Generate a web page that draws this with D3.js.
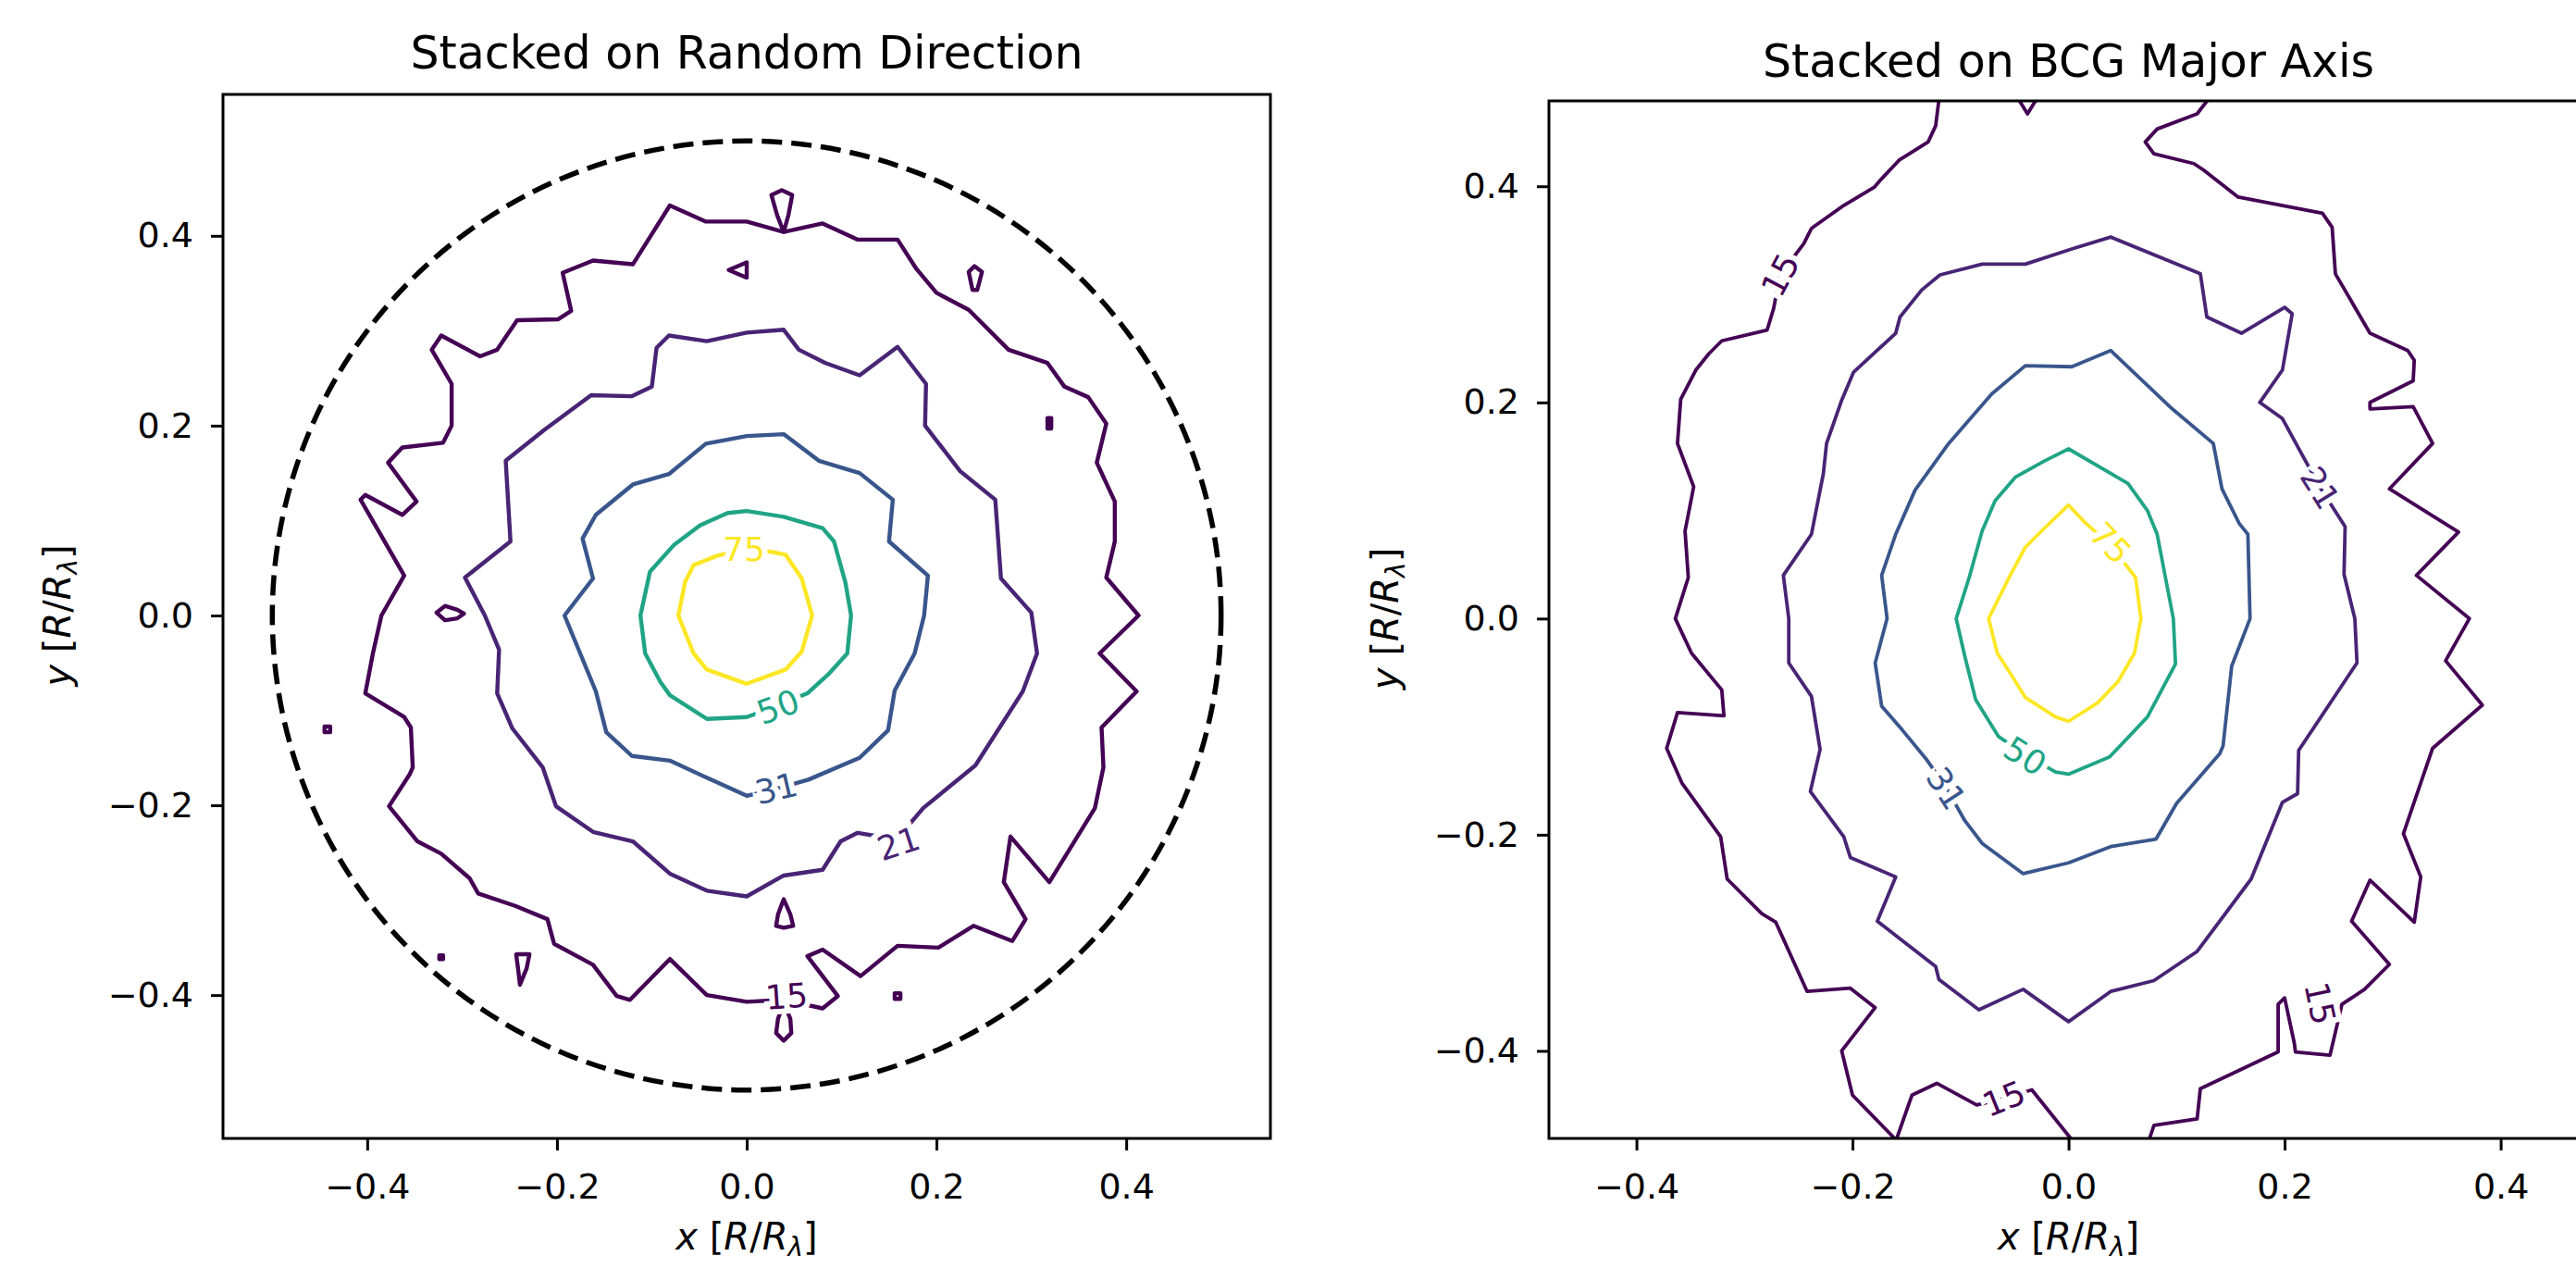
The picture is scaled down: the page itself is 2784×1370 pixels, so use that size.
<!DOCTYPE html>
<html>
<head>
<meta charset="utf-8">
<script src="https://cdn.jsdelivr.net/npm/d3@7"></script>
<style>
body { margin: 0; background: #fff; }
svg { display: block; font-family: "DejaVu Sans", sans-serif; }
</style>
</head>
<body>
<svg id="vis" width="2784" height="1370"></svg>
<script>
// contour levels and ticks shared by both panels
var levels = [15, 21, 31, 50, 75];
var tickValues = [-0.4, -0.2, 0, 0.2, 0.4];
var circleRadius = 0.5;

// ---- left panel: stacked on random direction (closed contours, data units) ----
var rand15 = [[-0.385,0.000],[-0.361,0.042],[-0.407,0.122],[-0.402,0.127],[-0.363,0.106],[-0.348,0.120],[-0.378,0.161],[-0.363,0.177],[-0.320,0.182],[-0.311,0.200],[-0.311,0.244],[-0.332,0.280],[-0.322,0.295],[-0.281,0.273],[-0.263,0.280],[-0.242,0.311],[-0.199,0.312],[-0.185,0.321],[-0.194,0.361],[-0.162,0.374],[-0.120,0.370],[-0.081,0.432],[-0.043,0.415],[0.000,0.415],[0.039,0.404],[0.080,0.413],[0.117,0.396],[0.159,0.396],[0.179,0.365],[0.200,0.340],[0.234,0.322],[0.276,0.280],[0.317,0.266],[0.335,0.241],[0.360,0.230],[0.379,0.202],[0.369,0.161],[0.388,0.120],[0.388,0.078],[0.379,0.040],[0.413,0.000],[0.372,-0.040],[0.411,-0.080],[0.374,-0.118],[0.376,-0.160],[0.367,-0.203],[0.319,-0.281],[0.278,-0.233],[0.271,-0.281],[0.294,-0.320],[0.280,-0.343],[0.239,-0.327],[0.202,-0.350],[0.159,-0.348],[0.120,-0.380],[0.080,-0.352],[0.064,-0.359],[0.096,-0.401],[0.080,-0.414],[0.040,-0.405],[0.000,-0.407],[-0.042,-0.400],[-0.081,-0.362],[-0.123,-0.405],[-0.137,-0.401],[-0.162,-0.368],[-0.203,-0.346],[-0.210,-0.320],[-0.244,-0.306],[-0.283,-0.293],[-0.292,-0.277],[-0.322,-0.251],[-0.347,-0.238],[-0.377,-0.201],[-0.355,-0.167],[-0.352,-0.160],[-0.354,-0.118],[-0.361,-0.107],[-0.402,-0.082],[-0.394,-0.040]];
var rand21 = [[-0.276,0.000],[-0.297,0.040],[-0.249,0.078],[-0.254,0.163],[-0.214,0.195],[-0.164,0.232],[-0.121,0.231],[-0.100,0.241],[-0.095,0.282],[-0.082,0.295],[-0.042,0.289],[0.000,0.298],[0.039,0.301],[0.055,0.280],[0.083,0.266],[0.119,0.253],[0.159,0.283],[0.189,0.244],[0.188,0.200],[0.225,0.152],[0.262,0.122],[0.268,0.039],[0.300,0.003],[0.306,-0.040],[0.291,-0.080],[0.241,-0.158],[0.186,-0.203],[0.158,-0.236],[0.117,-0.229],[0.099,-0.238],[0.080,-0.268],[0.039,-0.274],[0.000,-0.296],[-0.042,-0.290],[-0.081,-0.272],[-0.120,-0.238],[-0.162,-0.228],[-0.201,-0.201],[-0.215,-0.160],[-0.247,-0.119],[-0.263,-0.082],[-0.261,-0.036]];
var rand31 = [[-0.192,0.000],[-0.162,0.039],[-0.173,0.081],[-0.159,0.106],[-0.120,0.138],[-0.082,0.149],[-0.043,0.181],[0.000,0.189],[0.039,0.191],[0.076,0.163],[0.119,0.150],[0.154,0.122],[0.150,0.078],[0.191,0.042],[0.187,0.000],[0.177,-0.040],[0.156,-0.079],[0.149,-0.121],[0.119,-0.150],[0.065,-0.173],[0.030,-0.183],[0.000,-0.190],[-0.042,-0.171],[-0.081,-0.153],[-0.121,-0.148],[-0.148,-0.123],[-0.159,-0.080]];
var rand50 = [[-0.112,0.000],[-0.102,0.046],[-0.077,0.074],[-0.049,0.095],[-0.020,0.108],[0.000,0.110],[0.039,0.104],[0.080,0.092],[0.092,0.078],[0.104,0.035],[0.110,0.000],[0.106,-0.040],[0.087,-0.061],[0.064,-0.082],[0.033,-0.095],[0.000,-0.107],[-0.042,-0.109],[-0.081,-0.084],[-0.091,-0.070],[-0.107,-0.040]];
var rand75 = [[-0.072,0.000],[-0.065,0.035],[-0.056,0.053],[-0.031,0.063],[0.000,0.070],[0.026,0.067],[0.041,0.064],[0.058,0.039],[0.069,0.000],[0.058,-0.038],[0.041,-0.057],[0.000,-0.072],[-0.042,-0.057],[-0.056,-0.040]];
// small closed islands of the 15 level
var randIslands15 = [
    [[0.026,0.443],[0.037,0.448],[0.048,0.443],[0.044,0.422],[0.039,0.404],[0.032,0.422]],
    [[-0.019,0.364],[0.000,0.372],[0.000,0.356]],
    [[0.234,0.362],[0.240,0.368],[0.248,0.362],[0.243,0.343],[0.238,0.343]],
    [[0.317,0.208],[0.321,0.208],[0.321,0.197],[0.317,0.197]],
    [[-0.327,0.003],[-0.318,0.010],[-0.305,0.006],[-0.298,0.002],[-0.305,-0.003],[-0.318,-0.005]],
    [[-0.445,-0.117],[-0.439,-0.117],[-0.439,-0.123],[-0.445,-0.123]],
    [[-0.324,-0.358],[-0.320,-0.358],[-0.320,-0.362],[-0.324,-0.362]],
    [[-0.243,-0.357],[-0.229,-0.357],[-0.232,-0.372],[-0.239,-0.389],[-0.241,-0.372]],
    [[0.039,-0.299],[0.046,-0.315],[0.049,-0.327],[0.039,-0.329],[0.031,-0.327],[0.033,-0.315]],
    [[0.039,-0.408],[0.046,-0.425],[0.047,-0.440],[0.039,-0.448],[0.031,-0.440],[0.033,-0.425]],
    [[0.156,-0.398],[0.162,-0.398],[0.162,-0.404],[0.156,-0.404]]
];
// inline labels: [level, x, y]
var randLabels = [[75,-0.003,0.070],[50,0.033,-0.096],[31,0.031,-0.182],[21,0.160,-0.240],[15,0.042,-0.401]];
var randLabelAngles = [0, -20, -13, -18, -4];

// ---- right panel: stacked on BCG major axis ----
// open pieces of the 15 level that run into the frame
var major15a = [[-0.120,0.480],[-0.123,0.456],[-0.130,0.441],[-0.157,0.424],[-0.173,0.407],[-0.180,0.399],[-0.210,0.381],[-0.238,0.361],[-0.245,0.347],[-0.267,0.318],[-0.273,0.287],[-0.279,0.267],[-0.321,0.257],[-0.333,0.245],[-0.345,0.230],[-0.359,0.203],[-0.362,0.162],[-0.347,0.122],[-0.355,0.081],[-0.352,0.038],[-0.364,0.000],[-0.349,-0.032],[-0.321,-0.066],[-0.319,-0.090],[-0.362,-0.087],[-0.372,-0.120],[-0.358,-0.152],[-0.322,-0.202],[-0.316,-0.241],[-0.284,-0.273],[-0.271,-0.281],[-0.242,-0.345],[-0.202,-0.342],[-0.179,-0.360],[-0.210,-0.400],[-0.200,-0.441],[-0.161,-0.481]];
var major15b = [[-0.159,-0.481],[-0.145,-0.441],[-0.122,-0.430],[-0.085,-0.450],[-0.060,-0.444],[-0.034,-0.436],[0.002,-0.481]];
var major15c = [[0.129,0.480],[0.119,0.467],[0.082,0.453],[0.071,0.441],[0.079,0.430],[0.116,0.421],[0.125,0.415],[0.157,0.390],[0.235,0.375],[0.244,0.362],[0.247,0.319],[0.279,0.264],[0.314,0.248],[0.320,0.239],[0.319,0.220],[0.279,0.200],[0.279,0.194],[0.319,0.196],[0.337,0.162],[0.297,0.120],[0.361,0.080],[0.322,0.040],[0.371,0.000],[0.349,-0.039],[0.383,-0.080],[0.337,-0.120],[0.310,-0.199],[0.326,-0.239],[0.320,-0.281],[0.279,-0.242],[0.262,-0.280],[0.297,-0.320],[0.274,-0.343],[0.253,-0.357],[0.250,-0.370],[0.242,-0.404],[0.210,-0.401],[0.209,-0.393],[0.200,-0.351],[0.194,-0.357],[0.194,-0.401],[0.122,-0.435],[0.119,-0.463],[0.079,-0.469],[0.075,-0.481]];
var major21 = [[0.003,0.342],[-0.040,0.328],[-0.080,0.328],[-0.119,0.318],[-0.136,0.304],[-0.156,0.279],[-0.160,0.264],[-0.199,0.228],[-0.210,0.202],[-0.224,0.162],[-0.227,0.134],[-0.238,0.078],[-0.264,0.040],[-0.259,0.000],[-0.259,-0.041],[-0.238,-0.072],[-0.230,-0.121],[-0.239,-0.160],[-0.208,-0.202],[-0.202,-0.221],[-0.160,-0.239],[-0.177,-0.280],[-0.123,-0.322],[-0.120,-0.334],[-0.083,-0.362],[-0.042,-0.343],[0.000,-0.373],[0.039,-0.345],[0.079,-0.335],[0.119,-0.308],[0.169,-0.241],[0.198,-0.170],[0.212,-0.162],[0.213,-0.122],[0.267,-0.041],[0.265,0.000],[0.255,0.041],[0.256,0.085],[0.233,0.121],[0.216,0.152],[0.198,0.185],[0.177,0.200],[0.198,0.230],[0.207,0.282],[0.200,0.288],[0.160,0.264],[0.128,0.279],[0.122,0.319],[0.039,0.353]];
var major31 = [[0.003,0.233],[-0.040,0.234],[-0.071,0.208],[-0.111,0.162],[-0.142,0.119],[-0.160,0.078],[-0.173,0.040],[-0.168,0.000],[-0.179,-0.041],[-0.173,-0.081],[-0.154,-0.103],[-0.131,-0.131],[-0.113,-0.157],[-0.096,-0.187],[-0.080,-0.208],[-0.042,-0.236],[0.000,-0.226],[0.039,-0.211],[0.081,-0.204],[0.100,-0.171],[0.140,-0.125],[0.143,-0.118],[0.151,-0.044],[0.168,0.000],[0.166,0.078],[0.158,0.088],[0.142,0.120],[0.134,0.162],[0.096,0.194],[0.039,0.248]];
var major50 = [[0.000,0.157],[-0.022,0.146],[-0.049,0.131],[-0.068,0.109],[-0.080,0.081],[-0.092,0.038],[-0.104,0.000],[-0.096,-0.035],[-0.086,-0.075],[-0.065,-0.109],[-0.040,-0.126],[-0.012,-0.142],[0.000,-0.144],[0.038,-0.128],[0.073,-0.091],[0.099,-0.042],[0.097,0.000],[0.082,0.078],[0.073,0.100],[0.055,0.125]];
var major75 = [[0.000,0.105],[-0.025,0.081],[-0.040,0.066],[-0.055,0.038],[-0.074,0.000],[-0.066,-0.032],[-0.055,-0.049],[-0.040,-0.073],[-0.012,-0.091],[0.000,-0.095],[0.027,-0.078],[0.046,-0.058],[0.061,-0.032],[0.067,0.000],[0.062,0.038],[0.039,0.068],[0.015,0.089]];
var majorIslands15 = [
    [[-0.046,0.480],[-0.038,0.467],[-0.030,0.480]]
];
var majorLabels = [[15,-0.267,0.318],[15,-0.060,-0.444],[15,0.233,-0.356],[21,0.233,0.121],[31,-0.113,-0.157],[50,-0.040,-0.127],[75,0.039,0.070]];
var majorLabelAngles = [-62, -22, 78, 58, 57, 32, 46];


var svg = d3.select('#vis');
var color = d3.scaleSequential(d3.interpolateViridis).domain([levels[0], levels[levels.length - 1]]);

function drawPanel(p) {
    var x = d3.scaleLinear().domain(p.xDomain).range([p.left, p.right]);
    var y = d3.scaleLinear().domain(p.yDomain).range([p.bottom, p.top]);

    var g = svg.append('g');

    g.append('clipPath').attr('id', p.id + '-clip')
        .append('rect')
        .attr('x', p.left).attr('y', p.top)
        .attr('width', p.right - p.left).attr('height', p.bottom - p.top);

    var plot = g.append('g').attr('clip-path', 'url(#' + p.id + '-clip)');

    var lineOpen = d3.line().x(function(d){ return x(d[0]); }).y(function(d){ return y(d[1]); });
    var lineClosed = d3.line().curve(d3.curveLinearClosed)
        .x(function(d){ return x(d[0]); }).y(function(d){ return y(d[1]); });

    p.contours.forEach(function(c){
        plot.append('path')
            .attr('d', c.closed ? lineClosed(c.pts) : lineOpen(c.pts))
            .attr('fill', 'none')
            .attr('stroke', color(c.level))
            .attr('stroke-width', p.lw)
            .attr('stroke-linejoin', 'round');
    });

    if (p.circle) {
        plot.append('circle')
            .attr('cx', x(0)).attr('cy', y(0))
            .attr('r', x(circleRadius) - x(0))
            .attr('fill', 'none')
            .attr('stroke', '#000')
            .attr('stroke-width', 5.5)
            .attr('stroke-dasharray', '22,10');
    }

    //inline contour labels, white halo cuts the line like clabel(inline=True)
    p.labels.forEach(function(d, i){
        plot.append('text')
            .attr('transform', 'translate(' + x(d[1]) + ',' + y(d[2]) + ') rotate(' + p.angles[i] + ')')
            .attr('text-anchor', 'middle')
            .attr('dy', '0.36em')
            .attr('font-size', 36)
            .attr('fill', color(d[0]))
            .attr('stroke', '#fff')
            .attr('stroke-width', 12)
            .attr('paint-order', 'stroke')
            .text(d[0]);
    });

    // spines
    g.append('rect')
        .attr('x', p.left).attr('y', p.top)
        .attr('width', p.right - p.left).attr('height', p.bottom - p.top)
        .attr('fill', 'none').attr('stroke', '#000').attr('stroke-width', 3);

    var fmt = d3.format('.1f');

    var xAxis = g.append('g')
        .attr('transform', 'translate(0,' + p.bottom + ')')
        .call(d3.axisBottom(x).tickValues(tickValues).tickFormat(fmt).tickSize(13).tickPadding(25));
    var yAxis = g.append('g')
        .attr('transform', 'translate(' + p.left + ',0)')
        .call(d3.axisLeft(y).tickValues(tickValues).tickFormat(fmt).tickSize(13).tickPadding(19));

    [xAxis, yAxis].forEach(function(a){
        a.select('.domain').remove();
        a.selectAll('line').attr('stroke', '#000').attr('stroke-width', 3);
        a.selectAll('text').attr('font-size', 38).attr('font-family', '"DejaVu Sans", sans-serif').attr('fill', '#000');
    });

    g.append('text')
        .attr('x', x(0)).attr('y', p.titleY)
        .attr('text-anchor', 'middle')
        .attr('font-size', 49)
        .text(p.title);

    axisLabel(g.append('text')
        .attr('x', x(0)).attr('y', 1350)
        .attr('text-anchor', 'middle'), 'x');

    axisLabel(g.append('text')
        .attr('transform', 'translate(' + p.yLabelX + ',' + y(0) + ') rotate(-90)')
        .attr('text-anchor', 'middle')
        .attr('dy', '0.36em'), 'y');
}

// "$x$ [$R/R_\lambda$]" as svg tspans
function axisLabel(t, v) {
    t.attr('font-size', 40).attr('fill', '#000');
    t.append('tspan').attr('font-style', 'italic').text(v);
    t.append('tspan').text(' [');
    t.append('tspan').attr('font-style', 'italic').text('R');
    t.append('tspan').text('/');
    t.append('tspan').attr('font-style', 'italic').text('R');
    t.append('tspan').attr('font-style', 'italic').attr('font-size', 28).attr('dy', 7).text('λ');
    t.append('tspan').attr('dy', -7).text(']');
}

function contourList(list) {
    return list.map(function(c){ return {level: c[0], pts: c[1], closed: c[2]}; });
}

drawPanel({
    id: 'rand',
    left: 241, right: 1373, top: 102, bottom: 1230,
    xDomain: [-0.552, 0.552], yDomain: [-0.551, 0.549],
    lw: 4.4,
    circle: true,
    contours: contourList([[15, rand15, true], [21, rand21, true], [31, rand31, true], [50, rand50, true], [75, rand75, true]]
        .concat(randIslands15.map(function(s){ return [15, s, true]; }))),
    labels: randLabels, angles: randLabelAngles,
    title: 'Stacked on Random Direction', titleY: 74,
    yLabelX: 62
});

drawPanel({
    id: 'major',
    left: 1674, right: 2796, top: 109, bottom: 1230,
    xDomain: [-0.481, 0.480], yDomain: [-0.481, 0.479],
    lw: 3.8,
    circle: false,
    contours: contourList([[15, major15a, false], [15, major15b, false], [15, major15c, false],
        [21, major21, true], [31, major31, true], [50, major50, true], [75, major75, true]]
        .concat(majorIslands15.map(function(s){ return [15, s, true]; }))),
    labels: majorLabels, angles: majorLabelAngles,
    title: 'Stacked on BCG Major Axis', titleY: 83,
    yLabelX: 1497
});
</script>
</body>
</html>
